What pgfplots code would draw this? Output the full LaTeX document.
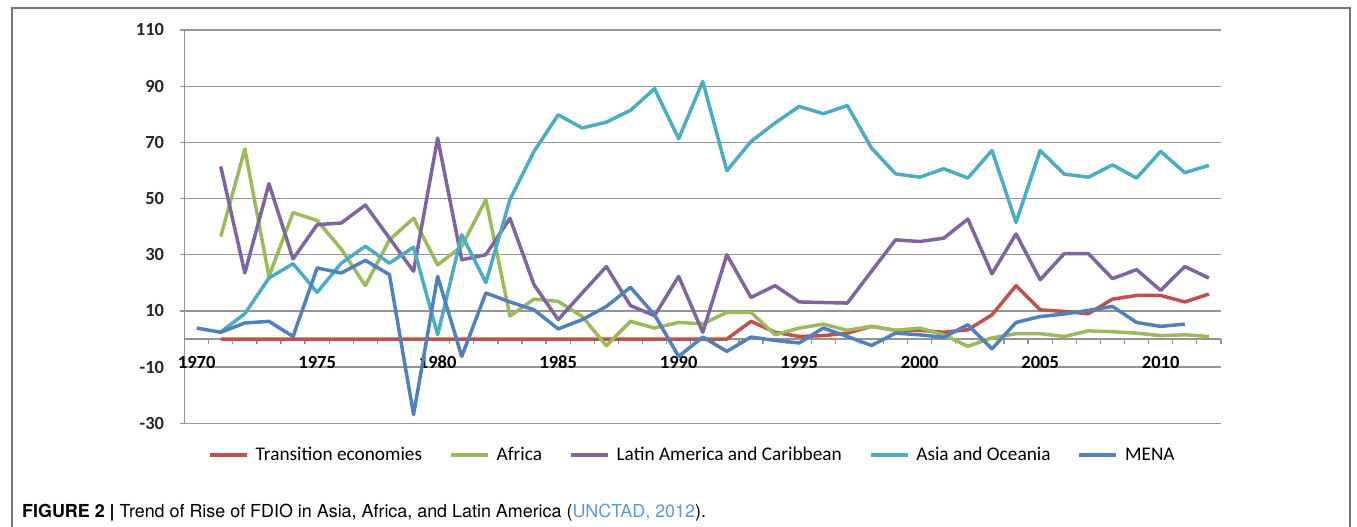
\documentclass[border=0pt]{standalone}
\usepackage{pgfplots}
\pgfplotsset{compat=1.18}
\usepackage{pgfplotstable}
\usepackage{fontspec}
\setmainfont{Carlito}
\newfontfamily\capfont{TeX Gyre Heros}

\definecolor{transred}{HTML}{C0504D}
\definecolor{africagreen}{HTML}{9BBB59}
\definecolor{latampurple}{HTML}{8064A2}
\definecolor{asiacyan}{HTML}{4BACC6}
\definecolor{menablue}{HTML}{4F81BD}
\definecolor{gridgray}{HTML}{949494}
\definecolor{linkblue}{HTML}{5B9BD5}

% FDI outflows by region, 1970-2012
\pgfplotstableread{
year trans africa latam asia mena
1970 nan nan nan nan 3.9
1971 0 36.5 61.4 2.5 2.4
1972 0 67.6 23.5 9 5.7
1973 0 22.3 55.3 21.7 6.3
1974 0 45 28.5 26.8 0.9
1975 0 42.2 40.7 16.6 25.3
1976 0 32 41.3 27 23.5
1977 0 19 47.7 33 28
1978 0 35.3 35.9 27 22.9
1979 0 43 24.1 32.7 -26.9
1980 0 26.4 71.5 1.5 22.3
1981 0 33 28.2 37.1 -6.2
1982 0 49.6 30 20.1 16.4
1983 0 8.2 43 49.6 13.2
1984 0 14.2 19.3 66.8 10.4
1985 0 13.4 6.9 79.8 3.6
1986 0 8 16.4 75.1 6.9
1987 0 -2.4 25.8 77.2 11.6
1988 0 6.3 11.9 81.4 18.4
1989 0 3.9 8.3 89.1 8.6
1990 0 5.9 22.3 71.3 -6.2
1991 0 5.4 2.4 91.7 0.7
1992 0 9.5 30 59.9 -4.4
1993 6.3 9.5 14.8 70.3 0.7
1994 2.4 1.5 19 76.9 -0.5
1995 0.9 3.9 13.2 82.8 -1.4
1996 1.2 5.3 13 80.2 3.9
1997 2.1 3.1 12.8 83.1 0.9
1998 4.5 4.5 24.1 68 -2.3
1999 3.1 3.1 35.3 58.8 2.1
2000 3.1 3.9 34.7 57.6 1.5
2001 2.4 1.5 35.9 60.6 0.6
2002 3.3 -2.6 42.7 57.3 5.1
2003 8.6 0.4 23.2 67.1 -3.5
2004 19 1.9 37.4 41.5 5.9
2005 10.4 1.9 21.1 67.1 8
2006 9.8 0.9 30.4 58.7 8.9
2007 9 2.9 30.4 57.6 10.2
2008 14.2 2.6 21.5 62 11.6
2009 15.5 2.1 24.7 57.3 5.9
2010 15.5 1.2 17.3 66.8 4.5
2011 13.2 1.5 25.8 59.2 5.3
2012 16 0.9 21.7 61.8 nan
}\fdiodata

\begin{document}
\begin{tikzpicture}[x=1pt,y=1pt]
\path[use as bounding box] (0,0) rectangle (1357,527);
% figure frame
\draw[black!55, line width=1.2pt] (12,0) -- (12,519) -- (1350,519) -- (1350,0);

\begin{axis}[
  at={(184.6pt,103.7pt)}, anchor=south west,
  scale only axis, width=1036.3pt, height=393.3pt,
  xmin=1969.5, xmax=2012.5, ymin=-30, ymax=110,
  axis y line*=left, axis x line*=middle,
  axis line style={gridgray, line width=1.3pt},
  ytick={-30,-10,10,30,50,70,90,110},
  yticklabels={-30,-10,10,30,50,70,90,110},
  ymajorgrids=true,
  major grid style={gridgray, line width=1.3pt},
  % category boundaries carry the tick marks, year labels sit between them
  xtick={1969.5,1970.5,...,2012.5},
  xticklabels={},
  extra x ticks={1970,1975,1980,1985,1990,1995,2000,2005,2010},
  extra x tick labels={1970,1975,1980,1985,1990,1995,2000,2005,2010},
  extra x tick style={major tick length=0pt,
    xticklabel style={anchor=center, yshift=-23pt}},
  tick align=outside,
  major tick length=5pt,
  every tick/.style={gridgray, line width=1.3pt},
  xticklabel style={font=\fontsize{18.5}{20}\selectfont\bfseries, text=black},
  yticklabel style={font=\fontsize{18.5}{20}\selectfont\bfseries, text=black!85, xshift=-12pt},
  legend style={at={(axis description cs:0.0197,-0.0806)}, anchor=west,
    draw=none, fill=none, legend columns=5,
    font=\fontsize{19.3}{22}\selectfont,
    /tikz/every odd column/.append style={column sep=5pt},
    /tikz/every even column/.append style={column sep=25pt}},
  legend image code/.code={\draw[#1] (0pt,0pt) -- (37pt,0pt);},
  every axis plot/.append style={line width=3.5pt, line join=round},
]
\addplot[transred] table[x=year, y=trans] {\fdiodata};
\addlegendentry{Transition economies}
\addplot[africagreen] table[x=year, y=africa] {\fdiodata};
\addlegendentry{Africa}
\addplot[latampurple] table[x=year, y=latam] {\fdiodata};
\addlegendentry{Latin America and Caribbean}
\addplot[asiacyan] table[x=year, y=asia] {\fdiodata};
\addlegendentry{Asia and Oceania}
\addplot[menablue] table[x=year, y=mena] {\fdiodata};
\addlegendentry{MENA}
\end{axis}

\node[anchor=base west, inner sep=0pt, font=\capfont\fontsize{17.9}{20}\selectfont] at (22,9.5)
  {\textbf{FIGURE 2 |} Trend of Rise of FDIO in Asia, Africa, and Latin America (\textcolor{linkblue}{UNCTAD, 2012}).};
\end{tikzpicture}
\end{document}
